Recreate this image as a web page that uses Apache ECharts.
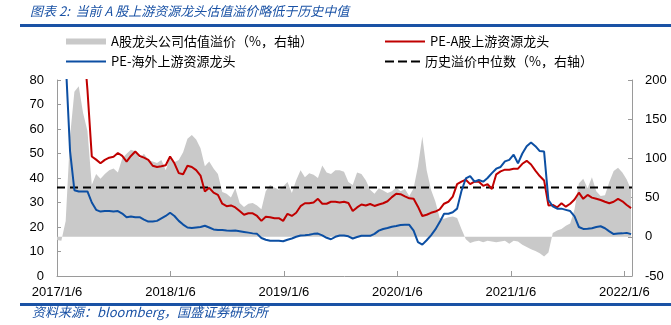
<!DOCTYPE html>
<html>
<head>
<meta charset="utf-8">
<script src="https://cdn.jsdelivr.net/npm/echarts@6/dist/echarts.min.js"></script>
<style>
html,body{margin:0;padding:0;background:#fff;}
#c{width:671px;height:325px;}
</style>
</head>
<body>
<div id="c"></div>
<script>
// ---- data (biweekly samples from 2017/1/6) ----
const startDate = '2017-01-06';
const stepDays = 14;
const axisEndDays = 1851; // 2022/1/31
const yearTickDays = 365.25;

const seriesNames = ['A股龙头公司估值溢价（%，右轴）', 'PE-A股上游资源龙头', 'PE-海外上游资源龙头', '历史溢价中位数（%，右轴）'];

// PE of overseas upstream leaders (left axis)
const peOverseas = [120,105,88,51,35,34.5,34.5,34.5,30,27,26.3,26.5,26.5,26.3,26.5,25.5,24,24.3,24,24,
  23,22.2,22.2,22.5,23.5,24.5,25.8,24.5,22.5,21,19.8,19.6,19.8,20,20.5,19.8,19,18.8,18.8,18.6,
  18.5,18.6,18.3,18,17.7,17.4,17.2,15.5,14.8,14.4,14.4,14.4,14.2,14.8,15.3,16,16.5,16.6,16.8,17.2,
  17.3,16.6,15.6,15,16,16.5,16.5,16.2,15.3,15.9,16.4,16.4,16.4,17.2,18.5,19.2,19.6,20.1,20.4,20.8,
  20.9,20.9,18.5,13.8,12.8,14.6,16.6,19,22,25.4,25.4,26,27.5,34.7,39.8,40.8,38.5,39.2,38.5,40,
  42,43.8,44.5,46.8,47.4,49.5,46,50,53,54.5,53,51,50.8,31,28.4,27.5,27.5,27,26.5,24.3,
  20,19.2,19.3,19.5,20,20.3,19.5,18.2,17.1,17.3,17.4,17.6,17.1];

// PE of A-share upstream leaders (left axis)
const peAShare = [110,108,105,104,102,100,98,76,48.8,47.5,46,47.4,48.3,48.7,50.2,49,46.7,49,50.8,49,
  48.3,47.4,45,44.5,44.8,45.2,48.8,46,42,41.5,45,44.5,43.2,41,34.5,36,34,33.1,29.5,28.5,
  28.8,28,26.5,25,25.6,25.6,24.5,22.5,24.2,24,23.6,23.6,22.5,25.4,24.5,25.8,28.5,29.7,29.7,30,
  31.5,29.5,29.5,30.3,30.3,30,30.3,29.8,26.5,28,29.2,28.8,29.4,28.6,29.2,29.7,30.5,32.2,33.6,33.4,
  32.5,31.7,31.5,28.3,24.5,25,25.8,26.3,27.2,29.5,30.3,32.4,37.5,38.5,39.3,37.5,38.5,38.5,36.8,37.5,
  35.5,41.5,42.7,43.4,43.4,43.8,43.8,45.8,47,45.5,43,40.8,39,28.8,29,28,29.7,28.3,29.5,31.2,
  34,31.5,33.1,32,31.5,31,30.3,29.7,30.3,31.5,30.5,29,27.7];

// valuation premium of A-share leaders, % (right axis)
const premium = [-4,-5,20,128,185,192,158,135,66,80,74,80,85,87,82,100,106,111,109,100,
  106,98,96,94,98,85,102,95,98,108,125,130,124,113,90,96,87,80,57,55,
  50,62,43,38,42,43,40,35,58,66,63,60,64,70,56,72,85,76,81,79,
  75,91,82,80,85,85,83,70,66,82,80,72,60,55,62,59,56,58,63,58,
  61,52,62,90,128,85,60,45,24,23,25,26,24,10,-3,-8,-6,-5,-7,-5,
  -6,-7,-6,-5,-9,-5,-6,-10,-13,-16,-18,-21,-25,-20,5,8,10,14,17,35,
  68,74,62,76,58,52,53,70,84,88,82,73,60];

const medianPremium = 63;

const leftTicks = {min:0, max:80, interval:10};
const rightTicks = {min:-50, max:200, interval:50};

// ---- build ----
function pairs(arr){ return arr.map((v,i)=>[i*stepDays, v]); }
const t0 = Date.parse(startDate + 'T00:00:00Z');
function fmtDay(v){
  const d = new Date(t0 + Math.floor(v + 1e-6) * 86400000);
  return d.getUTCFullYear() + '/' + (d.getUTCMonth()+1) + '/' + d.getUTCDate();
}

const BLUE_T = '#1a52a5';
const AXIS_C = '#9a9a9a';
const RED = '#c00000';
const BLUE = '#0c4fa3';
const GRAY = '#c9c9c9';
const cjk = "'Noto Sans CJK SC', sans-serif";
const lat = "'Liberation Sans', Arial, sans-serif";

const solidIcon = 'path://M0 0H40V2H0Z';
const dashIcon = 'path://M0 0H9V2H0Z M13 0H22V2H13Z M26 0H35V2H26Z';

const chart = echarts.init(document.getElementById('c'));
const legendBase = {
  orient:'horizontal', padding:0, itemWidth:40, itemHeight:2.5, itemGap:5,
  textStyle:{fontSize:13, color:'#000', fontFamily:cjk}
};
chart.setOption({
  animation:false,
  backgroundColor:'#fff',
  grid:{left:57, right:39, top:80, bottom:49, containLabel:false},
  legend:[
    Object.assign({}, legendBase, {left:66, top:35, itemHeight:6, data:[{name:seriesNames[0], icon:'rect'}]}),
    Object.assign({}, legendBase, {left:385, top:35, data:[{name:seriesNames[1], icon:solidIcon}]}),
    Object.assign({}, legendBase, {left:66, top:55, data:[{name:seriesNames[2], icon:solidIcon}]}),
    Object.assign({}, legendBase, {left:385, top:55, itemWidth:35, data:[{name:seriesNames[3], icon:dashIcon}]})
  ],
  xAxis:{
    type:'value', min:0, max:axisEndDays, interval:yearTickDays,
    axisLine:{show:true, lineStyle:{color:AXIS_C, width:1}},
    axisTick:{show:true, inside:true, length:5, lineStyle:{color:AXIS_C}},
    axisLabel:{formatter:fmtDay, showMaxLabel:false, showMinLabel:true, margin:10,
      fontSize:13, color:'#000', fontFamily:lat},
    splitLine:{show:false}
  },
  yAxis:[
    {type:'value', min:leftTicks.min, max:leftTicks.max, interval:leftTicks.interval, position:'left',
     axisLine:{show:true, lineStyle:{color:AXIS_C}},
     axisTick:{show:true, inside:true, length:4, lineStyle:{color:AXIS_C}},
     axisLabel:{margin:13, fontSize:13, color:'#000', fontFamily:lat},
     splitLine:{show:false}},
    {type:'value', min:rightTicks.min, max:rightTicks.max, interval:rightTicks.interval, position:'right',
     axisLine:{show:true, lineStyle:{color:AXIS_C}},
     axisTick:{show:true, inside:true, length:4, lineStyle:{color:AXIS_C}},
     axisLabel:{margin:13, fontSize:13, color:'#000', fontFamily:lat},
     splitLine:{show:false}}
  ],
  series:[
    {name:seriesNames[0], type:'line', yAxisIndex:1, data:pairs(premium), symbol:'none',
     lineStyle:{width:0, color:GRAY}, itemStyle:{color:GRAY},
     areaStyle:{color:GRAY, opacity:1, origin:'auto'}, z:1},
    {name:seriesNames[3], type:'line', yAxisIndex:1,
     data:[[0, medianPremium],[axisEndDays, medianPremium]], symbol:'none',
     lineStyle:{width:2, color:'#000', type:[8,5]}, itemStyle:{color:'#000'}, z:2},
    {name:seriesNames[1], type:'line', yAxisIndex:0, data:pairs(peAShare), symbol:'none',
     lineStyle:{width:2, color:RED}, itemStyle:{color:RED}, z:3},
    {name:seriesNames[2], type:'line', yAxisIndex:0, data:pairs(peOverseas), symbol:'none',
     lineStyle:{width:2, color:BLUE}, itemStyle:{color:BLUE}, z:4}
  ],
  graphic:{elements:[
    {type:'rect', z:100, zlevel:0, silent:true, x:20, y:24, shape:{x:0, y:0, width:651, height:3}, style:{fill:BLUE_T}},
    {type:'rect', z:100, zlevel:0, silent:true, x:20, y:303, shape:{x:0, y:0, width:651, height:3}, style:{fill:BLUE_T}},
    {type:'text', left:30, top:5, z:10, style:{text:'图表 2:  当前 A 股上游资源龙头估值溢价略低于历史中值',
      fill:BLUE_T, font:"italic 13px 'Noto Sans CJK SC', sans-serif"}},
    {type:'text', left:32, top:306, z:10, style:{text:'资料来源：bloomberg，国盛证券研究所',
      fill:BLUE_T, font:"italic 13px 'Noto Sans CJK SC', sans-serif"}}
  ]}
});
</script>
</body>
</html>
